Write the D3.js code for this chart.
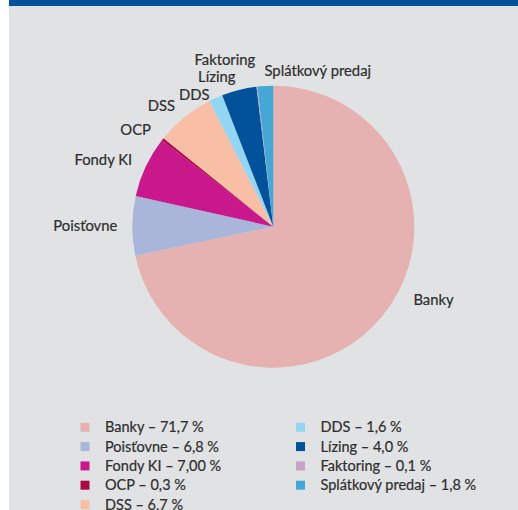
<!DOCTYPE html>
<html>
<head>
	<meta charset="UTF-8">
	<script src="https://d3js.org/d3.v7.min.js"></script>
	<style>
		body { margin: 0; background: #fff; }
		text { font-family: Lato, "Liberation Sans", sans-serif; fill: #2e2e2e; stroke: #2e2e2e; stroke-width: 0.2px; }
	</style>
</head>
<body>
	<div id="chart"></div>
<script>

// data (share in %), clockwise from 12 o'clock
const categories = ["Banky", "Poisťovne", "Fondy KI", "OCP", "DSS", "DDS", "Lízing", "Faktoring", "Splátkový predaj"];
const shares = [71.7, 6.8, 7.0, 0.3, 6.7, 1.6, 4.0, 0.1, 1.8];
const legendText = ["71,7 %", "6,8 %", "7,00 %", "0,3 %", "6,7 %", "1,6 %", "4,0 %", "0,1 %", "1,8 %"];
const colors = ["#e5b1b1", "#a9b6da", "#c8188c", "#ab0a41", "#f9bfa6", "#92d6f4", "#02519b", "#c9a1c9", "#45a8d4"];

const width = 518, height = 510;
const cx = 273.3, cy = 226.7, radius = 141;
const fontSize = 14.8;

const svg = d3.select("#chart").append("svg")
	.attr("width", width)
	.attr("height", height);

// panel background + top band
svg.append("rect").attr("x", 9).attr("y", 0).attr("width", width - 9).attr("height", height).attr("fill", "#e1e2e4");
svg.append("rect").attr("x", 9).attr("y", 0).attr("width", width - 9).attr("height", 6).attr("fill", "#02519b");

const rows = categories.map((c, i) => ({name: c, value: shares[i], label: legendText[i], color: colors[i]}));

const pie = d3.pie().sort(null).value(d => d.value);
const arc = d3.arc().innerRadius(0).outerRadius(radius);
const arcs = pie(rows);

const g = svg.append("g").attr("transform", `translate(${cx},${cy})`);
g.selectAll("path")
	.data(arcs)
	.join("path")
	.attr("d", arc)
	.attr("fill", d => d.data.color);

// slice labels: outside the rim at the mid angle, then pushed apart where they collide
const labelGap = 15;
const lineGap = 17.5;
const manualShift = {"Banky": [19, -25]}; // the big slice label sits off its mid angle

const labels = arcs.map(d => {
	const a = (d.startAngle + d.endAngle) / 2;
	const x = (radius + labelGap) * Math.sin(a);
	const y = -(radius + labelGap) * Math.cos(a);
	const anchor = x < -10 ? "end" : "start";
	const s = manualShift[d.data.name] || [0, 0];
	return {name: d.data.name, x: x + s[0], y: y + 5 + s[1], y0: y + 5 + s[1], anchor: anchor};
});

const lbl = g.selectAll("text.lbl")
	.data(labels)
	.join("text")
	.attr("class", "lbl")
	.attr("font-size", fontSize)
	.attr("text-anchor", d => d.anchor)
	.attr("x", d => d.x)
	.attr("y", d => d.y)
	.text(d => d.name);

lbl.each(function(d) {
	d.w = this.getComputedTextLength();
	d.x0 = d.anchor === "end" ? d.x - d.w : d.x;
	d.x1 = d.x0 + d.w;
});

// keep the original top-to-bottom order while separating
for (let k = 0; k < 400; k++) {
	for (let i = 0; i < labels.length; i++) {
		for (let j = i + 1; j < labels.length; j++) {
			const a = labels[i], b = labels[j];
			if (a.x1 < b.x0 || b.x1 < a.x0) continue;
			const dir = a.y0 >= b.y0 ? 1 : -1;
			const sep = dir * (a.y - b.y);
			if (sep >= lineGap) continue;
			const push = (lineGap - sep) / 2 + 0.05;
			a.y += dir * push;
			b.y -= dir * push;
		}
	}
}
lbl.attr("y", d => d.y);

// legend, two columns
const legend = svg.append("g");
const colX = [80.5, 296];
const rowY0 = 432.3, rowStep = 19.3, perCol = 5;

const item = legend.selectAll("g")
	.data(rows)
	.join("g")
	.attr("transform", (d, i) => `translate(${colX[Math.floor(i / perCol)]},${rowY0 + (i % perCol) * rowStep})`);

item.append("rect")
	.attr("x", 0)
	.attr("y", -9.5)
	.attr("width", 9)
	.attr("height", 9)
	.attr("fill", d => d.color);

item.append("text")
	.attr("x", 24.5)
	.attr("y", 0)
	.attr("font-size", 14.5)
	.text(d => `${d.name} – ${d.label}`);

</script>
</body>
</html>
